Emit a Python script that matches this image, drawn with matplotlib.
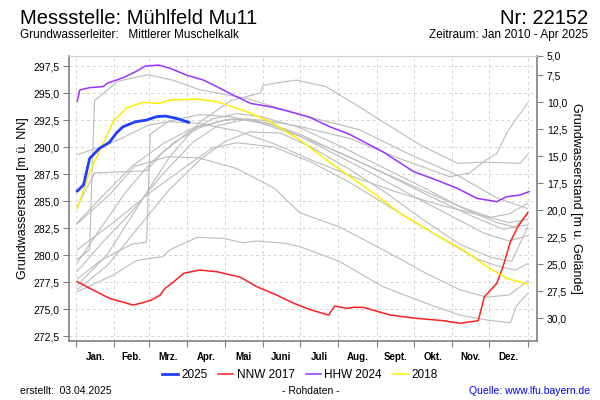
import matplotlib
matplotlib.use("Agg")
import matplotlib.pyplot as plt
from matplotlib.ticker import FixedLocator, FuncFormatter, NullFormatter

plt.rcParams['font.family'] = ['Liberation Sans', 'DejaVu Sans']

# ground level used for the right hand depth scale [m u. Gelaende]
ground = 304.14

months = ["Jan.", "Feb.", "Mrz.", "Apr.", "Mai", "Juni", "Juli",
          "Aug.", "Sept.", "Okt.", "Nov.", "Dez."]
month_start = [0, 31, 59, 90, 120, 151, 181, 212, 243, 273, 304, 334, 365]

# day of year / level [m ue. NN]
y2025_day = [1, 6, 11, 19, 27, 33, 38, 48, 57, 65, 72, 81, 91]
y2025_lvl = [285.93, 286.48, 288.95, 289.88, 290.44, 291.36, 291.88,
             292.34, 292.5, 292.81, 292.87, 292.66, 292.29]

nnw_day = [1, 11, 27, 46, 52, 61, 68, 72, 79, 87, 100, 114, 133, 146, 162,
           176, 189, 204, 209, 219, 224, 232, 254, 275, 297, 310, 325, 330,
           340, 345, 351, 357, 365]
nnw_lvl = [277.53, 276.92, 275.99, 275.37, 275.53, 275.83, 276.3, 276.92,
           277.53, 278.31, 278.61, 278.45, 277.94, 277.07, 276.3, 275.53,
           274.95, 274.44, 275.28, 275.06, 275.16, 275.16, 274.44, 274.14,
           273.92, 273.68, 273.92, 276.14, 277.38, 278.92, 281.23, 282.62,
           283.92]

hhw_day = [1, 3, 11, 22, 25, 38, 48, 56, 67, 76, 89, 103, 114, 127, 141,
           157, 173, 189, 205, 221, 248, 273, 289, 308, 324, 340, 348, 359,
           366]
hhw_lvl = [294.26, 295.28, 295.5, 295.6, 295.9, 296.42, 296.97, 297.5,
           297.59, 297.29, 296.67, 296.2, 295.58, 294.81, 294.04, 293.73,
           293.27, 292.75, 291.88, 291.18, 289.56, 287.71, 287.04, 286.18,
           285.25, 284.94, 285.4, 285.56, 285.87]

y2018_day = [1, 11, 22, 30, 41, 54, 67, 76, 98, 114, 138, 157, 181, 208,
             235, 250, 262, 289, 313, 332, 348, 365]
y2018_lvl = [284.3, 287.7, 290.34, 292.34, 293.64, 294.14, 294.04, 294.35,
             294.44, 294.19, 293.27, 292.34, 290.65, 288.33, 286.18, 284.9,
             283.86, 282.01, 280.46, 278.92, 277.84, 277.31]

# remaining years (grey)
grey_years = [
    ([1, 11, 13, 15, 34, 58, 78, 100, 138, 181, 229, 270, 308, 340, 365],
     [279.6, 280.5, 288.0, 294.3, 296.1, 296.7, 296.2, 295.3, 294.5, 293.0,
      291.6, 289.3, 287.4, 285.3, 284.3]),
    ([1, 25, 50, 75, 100, 125, 149, 151, 160, 178, 202, 225, 243, 278, 308,
      330, 359, 365],
     [277.2, 280.0, 284.5, 289.0, 292.3, 294.3, 295.0, 295.7, 295.9, 296.2,
      295.6, 294.0, 292.7, 290.2, 288.5, 288.6, 288.5, 289.3]),
    ([1, 20, 45, 70, 95, 125, 150, 181, 221, 260, 302, 318, 330, 340, 348,
      355, 365],
     [283.0, 285.3, 288.2, 290.3, 291.8, 292.6, 292.5, 291.9, 290.8, 289.0,
      287.25, 287.6, 288.7, 289.4, 291.3, 292.5, 294.05]),
    ([1, 20, 34, 58, 74, 99, 130, 160, 190, 225, 260, 295, 330, 350, 365],
     [289.3, 290.0, 290.65, 292.0, 292.35, 292.2, 291.5, 290.3, 288.8, 287.2,
      285.8, 284.6, 283.6, 283.0, 283.3]),
    ([1, 20, 45, 57, 60, 75, 100, 125, 150, 181, 215, 250, 285, 320, 345,
      365],
     [277.8, 279.5, 281.0, 281.2, 291.2, 292.4, 293.0, 292.8, 292.2, 291.0,
      289.4, 287.5, 285.5, 283.6, 282.4, 282.8]),
    ([1, 15, 57, 70, 90, 110, 130, 150, 181, 215, 250, 285, 315, 340, 355,
      365],
     [284.5, 287.6, 287.8, 289.5, 291.3, 292.6, 293.1, 292.8, 291.8, 290.0,
      288.0, 286.0, 284.2, 283.0, 282.6, 283.8]),
    ([1, 28, 47, 74, 99, 130, 160, 181, 213, 248, 283, 310, 332, 350, 365],
     [282.9, 285.7, 288.2, 289.1, 289.0, 288.0, 286.2, 283.9, 282.6, 280.5,
      278.3, 276.8, 276.1, 276.3, 277.6]),
    ([1, 30, 49, 70, 76, 98, 119, 135, 146, 168, 181, 213, 248, 283, 310,
      332, 351, 356, 365],
     [276.6, 278.15, 279.5, 279.85, 280.5, 281.64, 281.55, 281.14, 281.3,
      281.1, 280.77, 279.4, 277.07, 275.53, 274.44, 273.98, 273.73, 275.3,
      276.45]),
    ([1, 20, 40, 60, 80, 100, 120, 140, 160, 181, 210, 240, 270, 300, 330,
      350, 365],
     [279.3, 282.5, 285.8, 288.5, 290.5, 291.8, 292.5, 292.6, 292.0, 291.0,
      289.3, 287.5, 285.6, 283.8, 282.0, 281.3, 281.8]),
    ([1, 20, 45, 70, 95, 115, 135, 155, 181, 210, 245, 280, 310, 335, 350,
      365],
     [278.5, 281.0, 284.0, 287.5, 290.5, 292.0, 292.5, 292.2, 291.2, 289.6,
      287.8, 286.0, 284.5, 283.5, 283.8, 284.8]),
    ([1, 25, 50, 75, 100, 120, 140, 165, 190, 220, 250, 280, 310, 335, 352,
      365],
     [276.8, 279.0, 282.5, 286.0, 288.8, 290.5, 291.4, 291.3, 290.0, 288.0,
      285.8, 283.3, 281.0, 279.8, 279.4, 282.6]),
    ([1, 30, 60, 90, 110, 130, 160, 190, 220, 250, 280, 305, 325, 340, 355,
      365],
     [280.5, 283.0, 285.8, 288.3, 289.9, 290.4, 290.0, 288.6, 286.8, 284.7,
      282.6, 280.9, 279.6, 279.0, 278.6, 279.2]),
]

fig = plt.figure(figsize=(6, 4), dpi=100)
ax = fig.add_axes([0.115, 0.1475, 0.78, 0.7125])

for d, v in grey_years:
    ax.plot(d, v, color="#bbbbbb", lw=0.8, zorder=2)
ax.plot(nnw_day, nnw_lvl, color="#ff2020", lw=1.1, zorder=3, label="NNW 2017")
ax.plot(hhw_day, hhw_lvl, color="#9933ff", lw=1.1, zorder=3, label="HHW 2024")
ax.plot(y2018_day, y2018_lvl, color="#ffee00", lw=1.1, zorder=3, label="2018")
ax.plot(y2025_day, y2025_lvl, color="#2040ff", lw=2.0, zorder=4, label="2025")

ymin, ymax = 272.04, 298.43
ax.set_xlim(-5.7, 372.5)
ax.set_ylim(ymin, ymax)

comma = FuncFormatter(lambda v, p: ("%.1f" % v).replace(".", ","))

ax.yaxis.set_major_locator(FixedLocator([272.5 + 2.5 * i for i in range(11)]))
ax.yaxis.set_major_formatter(comma)
ax.xaxis.set_major_locator(FixedLocator(month_start))
ax.xaxis.set_major_formatter(NullFormatter())
mids = [(month_start[i] + month_start[i + 1]) / 2 for i in range(12)]
ax.xaxis.set_minor_locator(FixedLocator(mids))
ax.xaxis.set_minor_formatter(FuncFormatter(lambda v, p: months[p]))
ax.tick_params(axis="x", which="minor", length=0, pad=8, labelsize=7)
for lab in ax.get_xticklabels(minor=True):
    lab.set_fontweight("bold")
ax.tick_params(axis="x", which="major", length=4, color="#808080")
ax.tick_params(axis="y", length=4, color="#808080", labelsize=7.5, pad=3)

ax.grid(True, which="major", color="#d4d4d4", lw=0.7, ls=(0, (3, 3)))
for side in ["left", "bottom", "right"]:
    ax.spines[side].set_color("#808080")
    ax.spines[side].set_linewidth(1.2)
ax.spines["top"].set_color("#d0d0d0")
ax.spines["top"].set_linewidth(0.8)
ax.set_ylabel("Grundwasserstand [m ü. NN]", fontsize=9, labelpad=3)

ax2 = ax.twinx()
ax2.set_ylim(ground - ymin, ground - ymax)
rticks = [ground - ymax] + [7.5 + 2.5 * i for i in range(10)]
rlabels = ["5,0"] + [("%.1f" % t).replace(".", ",") for t in rticks[1:]]
ax2.yaxis.set_major_locator(FixedLocator(rticks))
ax2.set_yticklabels(rlabels)
ax2.tick_params(axis="y", length=4, color="#808080", labelsize=7.5, pad=3)
for s in ax2.spines.values():
    s.set_visible(False)
ax2.set_ylabel("Grundwasserstand [m u. Gelände]", fontsize=9, rotation=-90,
               labelpad=11)

handles, labels = ax.get_legend_handles_labels()
order = [3, 0, 1, 2]
fig.legend([handles[i] for i in order], [labels[i] for i in order],
           loc="center", bbox_to_anchor=(0.5, 0.063), ncol=4, frameon=False,
           fontsize=8.5, handlelength=1.3, handletextpad=0.3,
           columnspacing=0.9)

fig.text(0.033, 0.955, "Messstelle: Mühlfeld Mu11", fontsize=14.5,
         ha="left", va="center")
fig.text(0.98, 0.955, "Nr: 22152", fontsize=14.5, ha="right", va="center")
fig.text(0.033, 0.913, "Grundwasserleiter:   Mittlerer Muschelkalk",
         fontsize=8.5, ha="left", va="center")
fig.text(0.98, 0.913, "Zeitraum: Jan 2010 - Apr 2025", fontsize=8.5,
         ha="right", va="center")
fig.text(0.033, 0.022, "erstellt:  03.04.2025", fontsize=7.5, ha="left",
         va="center")
fig.text(0.518, 0.022, "- Rohdaten -", fontsize=7.5, ha="center", va="center")
fig.text(0.983, 0.022, "Quelle: www.lfu.bayern.de", fontsize=7.5,
         ha="right", va="center", color="#0000ff")

fig.savefig("out.png", dpi=100)
